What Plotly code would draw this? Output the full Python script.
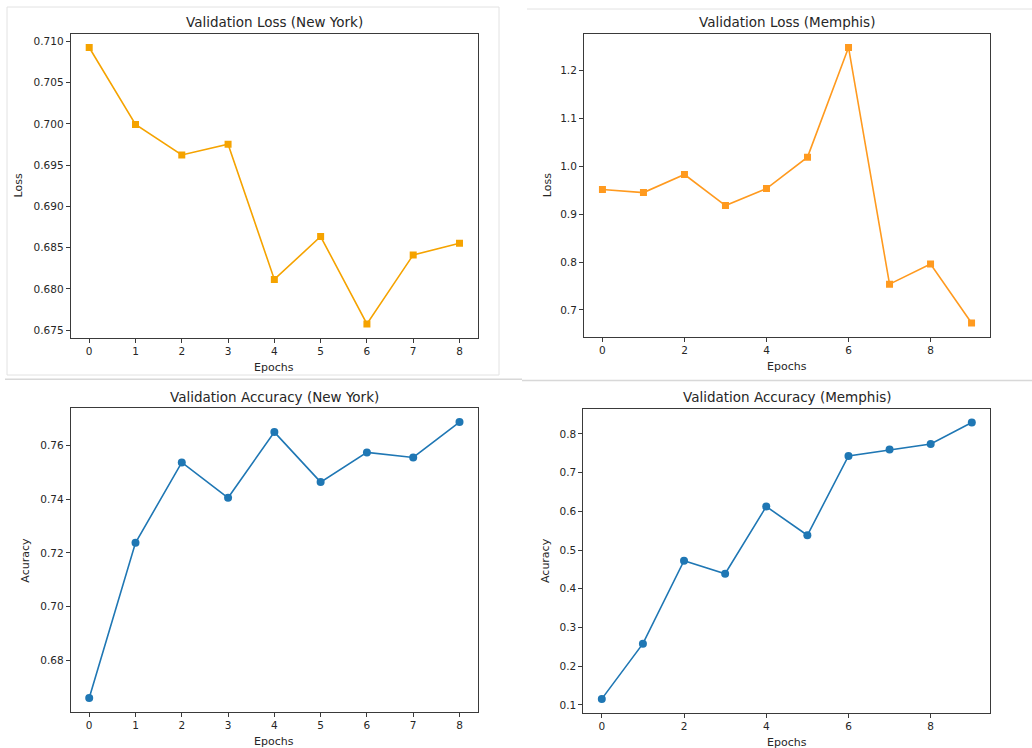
import plotly.graph_objects as go

W, H = 1032, 748

# ---------------- data ----------------
ny_epochs = [0, 1, 2, 3, 4, 5, 6, 7, 8]
ny_loss = [0.70927, 0.69994, 0.69625, 0.69755, 0.68116, 0.68636, 0.67577, 0.68413, 0.68555]
ny_acc = [0.66611, 0.72378, 0.75367, 0.74053, 0.76496, 0.74636, 0.75740, 0.75553, 0.76868]

mem_epochs = [0, 1, 2, 3, 4, 5, 6, 7, 8, 9]
mem_loss = [0.9514, 0.9451, 0.9828, 0.9179, 0.9535, 1.0191, 1.2482, 0.7538, 0.7957, 0.6728]
mem_acc = [0.1156, 0.2582, 0.4725, 0.4388, 0.6125, 0.5382, 0.7430, 0.7595, 0.7741, 0.8294]

titles = ["Validation Loss (New York)", "Validation Loss (Memphis)",
          "Validation Accuracy (New York)", "Validation Accuracy (Memphis)"]
ylabels = ["Loss", "Loss", "Acuracy", "Acuracy"]
xlabel = "Epochs"

ny_xticks = [0, 1, 2, 3, 4, 5, 6, 7, 8]
mem_xticks = [0, 2, 4, 6, 8]
ny_loss_ticks = [0.675, 0.680, 0.685, 0.690, 0.695, 0.700, 0.705, 0.710]
mem_loss_ticks = [0.7, 0.8, 0.9, 1.0, 1.1, 1.2]
ny_acc_ticks = [0.68, 0.70, 0.72, 0.74, 0.76]
mem_acc_ticks = [0.1, 0.2, 0.3, 0.4, 0.5, 0.6, 0.7, 0.8]

# ---------------- layout geometry (pixels) ----------------
# plot areas: (left, right, top, bottom)
areas = [
    (70.7, 478.0, 33.7, 337.7),
    (584.0, 990.0, 33.7, 336.7),
    (70.7, 478.0, 408.3, 711.7),
    (583.3, 990.3, 408.7, 712.7),
]
ylabel_offsets = [52, 37, 46, 38]

def xd(px):
    return px / W

def yd(py):
    return 1 - py / H

TXT = "#262626"
FONT = "DejaVu Sans"

fig = go.Figure()

series = [
    (ny_epochs, ny_loss, "square", "#F5A300", 7),
    (mem_epochs, mem_loss, "square", "#FF9A1F", 7),
    (ny_epochs, ny_acc, "circle", "#1f77b4", 8),
    (mem_epochs, mem_acc, "circle", "#1f77b4", 8),
]

for i, (xs, ys, sym, col, ms) in enumerate(series):
    ax = "" if i == 0 else str(i + 1)
    fig.add_trace(go.Scatter(
        x=xs, y=ys, mode="lines+markers",
        line=dict(color=col, width=1.6),
        marker=dict(symbol=sym, size=ms, color=col),
        xaxis="x" + ax, yaxis="y" + ax, showlegend=False,
        hoverinfo="x+y",
    ))

def pad(lo, hi):
    m = (hi - lo) * 0.05
    return [lo - m, hi + m]

yranges = [pad(min(ny_loss), max(ny_loss)), pad(min(mem_loss), max(mem_loss)),
           pad(min(ny_acc), max(ny_acc)), pad(min(mem_acc), max(mem_acc))]
xranges = [pad(0, 8), pad(0, 9), pad(0, 8), pad(0, 9)]
xticks = [ny_xticks, mem_xticks, ny_xticks, mem_xticks]
yticks = [ny_loss_ticks, mem_loss_ticks, ny_acc_ticks, mem_acc_ticks]
yfmt = [".3f", ".1f", ".2f", ".1f"]

axis_common = dict(
    showgrid=False, zeroline=False, showline=True, linecolor="#3a3a3a",
    linewidth=1, mirror=True, ticks="outside", ticklen=4, tickwidth=1,
    tickcolor="#3a3a3a", tickfont=dict(family=FONT, size=10.5, color=TXT),
)

layout = dict(
    width=W, height=H, margin=dict(l=0, r=0, t=0, b=0),
    paper_bgcolor="white", plot_bgcolor="white",
    font=dict(family=FONT, color=TXT),
)

annotations = []
for i, (l, r, t, b) in enumerate(areas):
    ax = "" if i == 0 else str(i + 1)
    layout["xaxis" + ax] = dict(
        axis_common, domain=[xd(l), xd(r)], range=xranges[i],
        tickmode="array", tickvals=xticks[i], anchor="y" + ax,
    )
    layout["yaxis" + ax] = dict(
        axis_common, domain=[yd(b), yd(t)], range=yranges[i],
        tickmode="array", tickvals=yticks[i], tickformat=yfmt[i],
        anchor="x" + ax,
    )
    cx = (l + r) / 2
    annotations.append(dict(
        text=titles[i], x=xd(cx), y=yd(t - 11.5), xref="paper", yref="paper",
        showarrow=False, font=dict(family=FONT, size=13.5, color=TXT),
        xanchor="center", yanchor="middle",
    ))
    annotations.append(dict(
        text=xlabel, x=xd(cx), y=yd(b + 29.5), xref="paper", yref="paper",
        showarrow=False, font=dict(family=FONT, size=11, color=TXT),
        xanchor="center", yanchor="middle",
    ))
    annotations.append(dict(
        text=ylabels[i], x=xd(l - ylabel_offsets[i]), y=yd((t + b) / 2),
        xref="paper", yref="paper",
        showarrow=False, textangle=-90, font=dict(family=FONT, size=11, color=TXT),
        xanchor="center", yanchor="middle",
    ))

layout["annotations"] = annotations

# screenshot panel borders / separators
GREY = "#e2e2e2"
shapes = [
    dict(type="rect", x0=xd(7), x1=xd(499), y0=yd(375), y1=yd(7),
         xref="paper", yref="paper", line=dict(color=GREY, width=1)),
    dict(type="line", x0=xd(527), x1=xd(1032), y0=yd(9), y1=yd(9),
         xref="paper", yref="paper", line=dict(color=GREY, width=1)),
    dict(type="line", x0=xd(5), x1=xd(522), y0=yd(379.3), y1=yd(379.3),
         xref="paper", yref="paper", line=dict(color="#d8d8d8", width=1.5)),
    dict(type="line", x0=xd(522), x1=xd(1032), y0=yd(380.5), y1=yd(380.5),
         xref="paper", yref="paper", line=dict(color="#d8d8d8", width=1.5)),
]
layout["shapes"] = shapes

fig.update_layout(**layout)
fig.write_html(
    "out.html",
    config={"displayModeBar": False},
    post_script="document.body.style.margin='0';document.body.style.overflow='hidden';",
)
